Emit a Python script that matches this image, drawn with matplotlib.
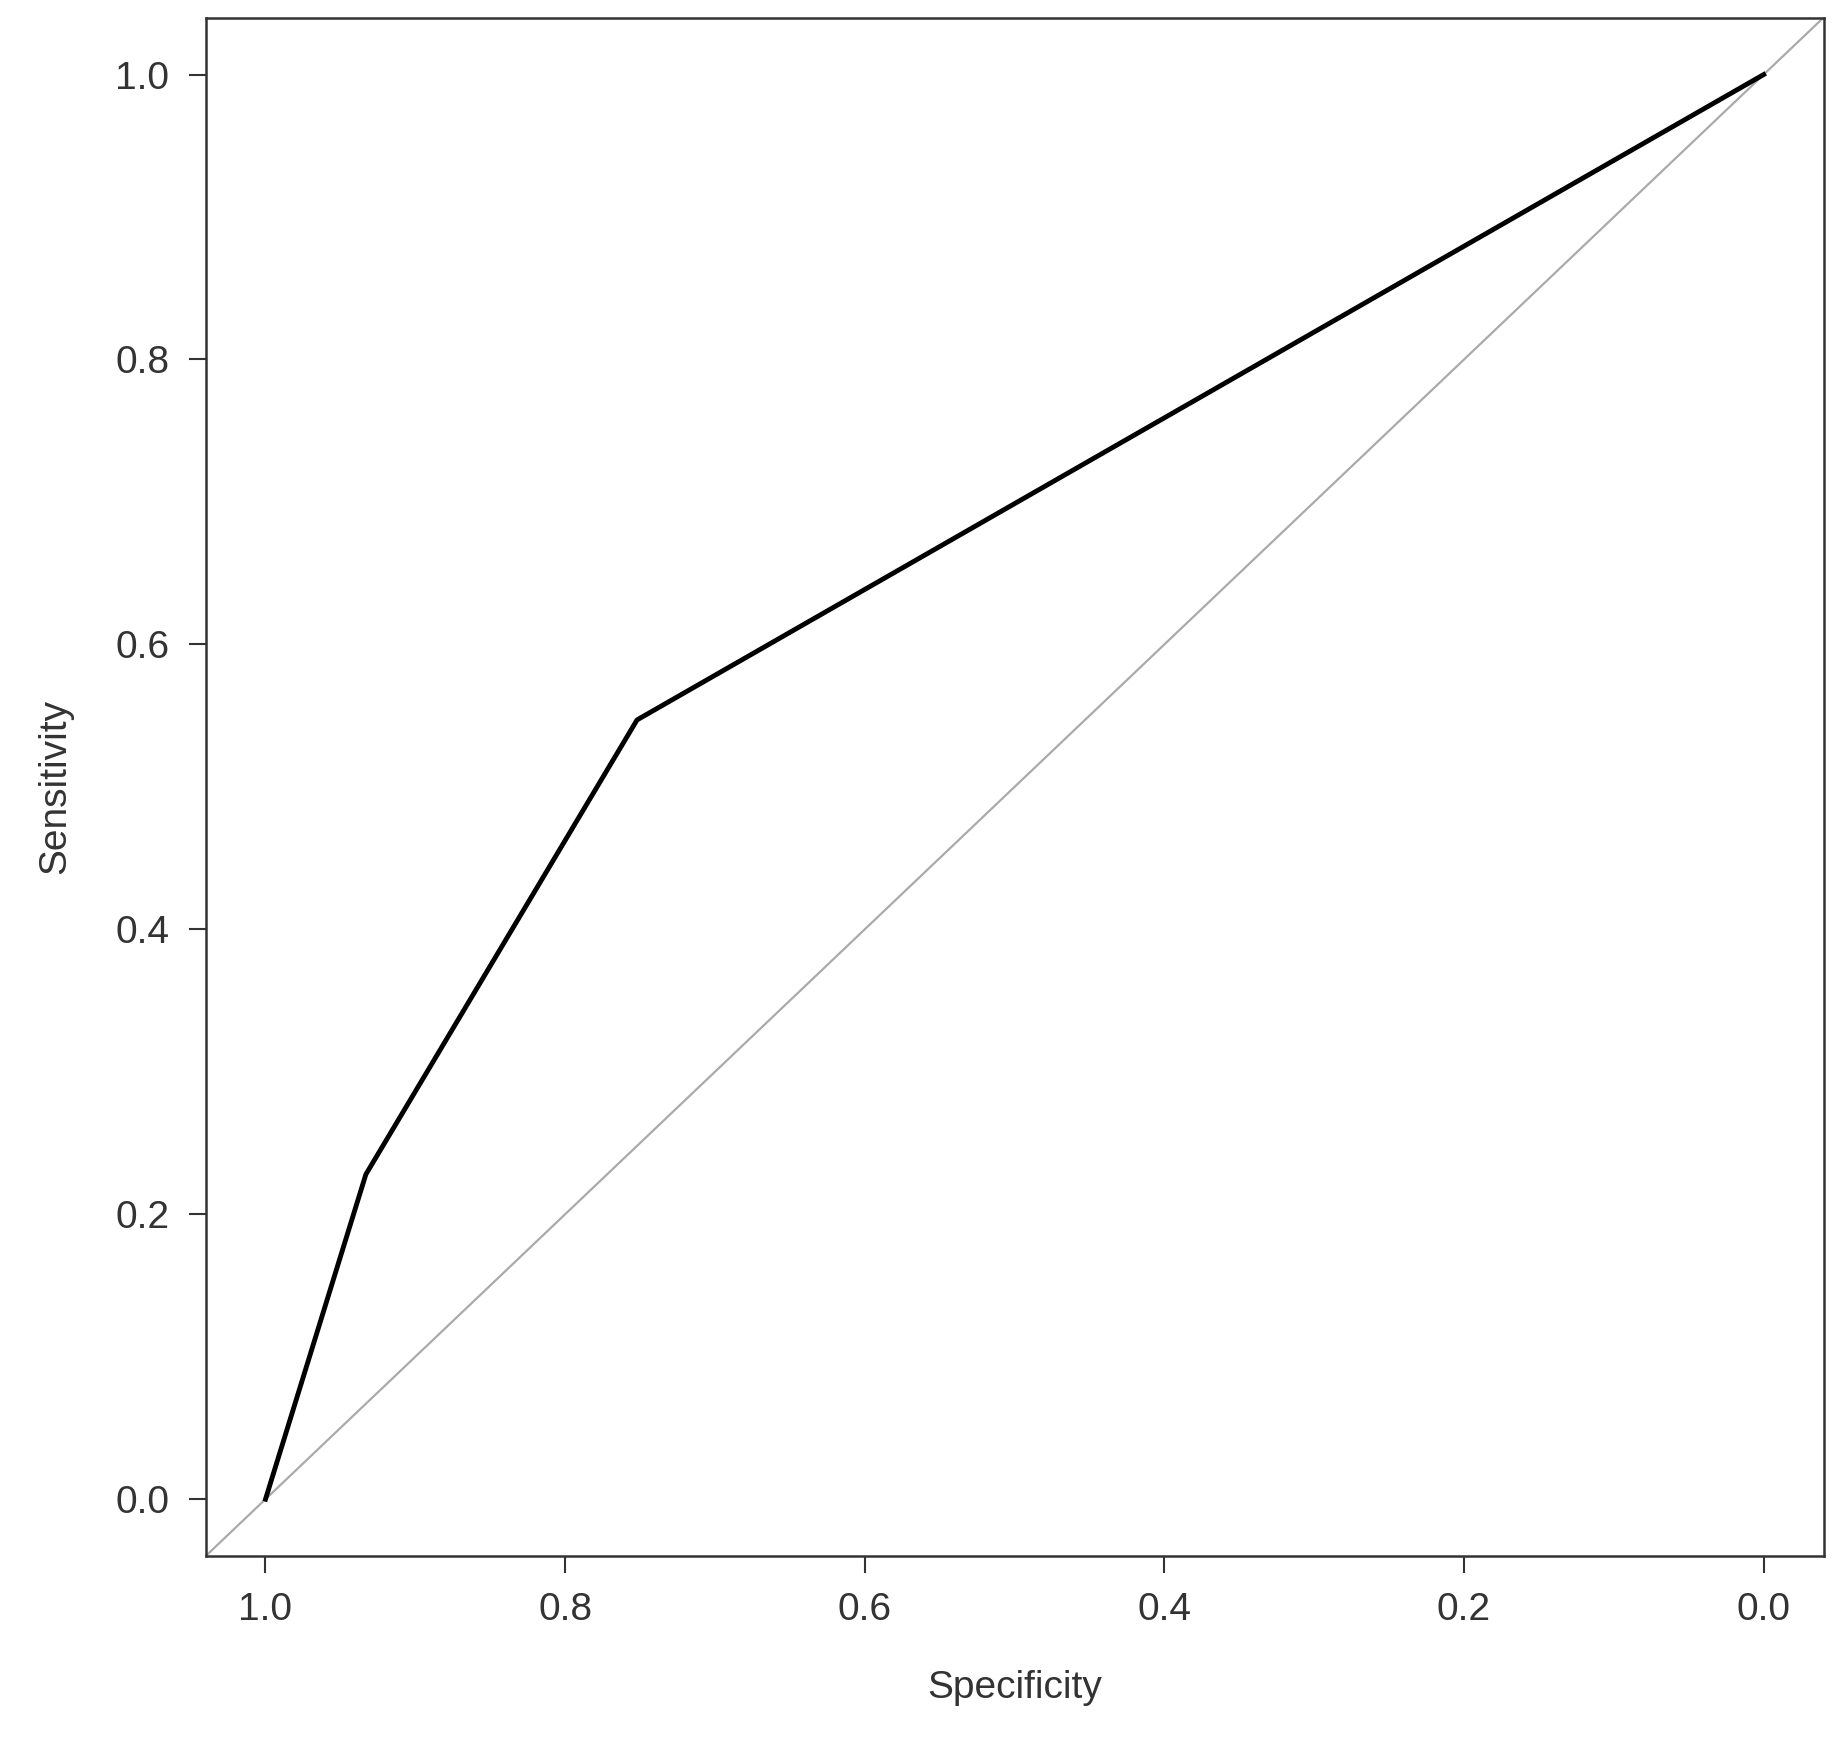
import matplotlib
matplotlib.use("Agg")
import matplotlib.pyplot as plt

specificity = [1.0, 0.933, 0.752, 0.0]
sensitivity = [0.0, 0.228, 0.547, 1.0]
ticks = [1.0, 0.8, 0.6, 0.4, 0.2, 0.0]

plt.rcParams['font.family'] = ['Liberation Sans', 'DejaVu Sans']
fig = plt.figure(figsize=(18.42, 17.57), dpi=100)
ax = fig.add_axes([0.1116, 0.1143, 0.8784, 0.8757])
ax.set_xlim(1.04, -0.04)
ax.set_ylim(-0.04, 1.04)
ax.plot([1.04, -0.04], [-0.04, 1.04], color='#aaaaaa', lw=1.6)
ax.plot(specificity, sensitivity, color='black', lw=3.5)
ax.set_xticks(ticks)
ax.set_yticks(ticks)
ax.set_xticklabels([f"{t:.1f}" for t in ticks])
ax.set_yticklabels([f"{t:.1f}" for t in ticks])
ax.tick_params(labelsize=28, length=12, width=1.5, colors='#333333', pad=14)
for s in ax.spines.values():
    s.set_linewidth(1.8); s.set_color('#333333')
ax.set_xlabel('Specificity', fontsize=28, labelpad=30, color='#333333')
ax.set_ylabel('Sensitivity', fontsize=28, labelpad=30, color='#333333')
fig.savefig('out.png', dpi=100)
